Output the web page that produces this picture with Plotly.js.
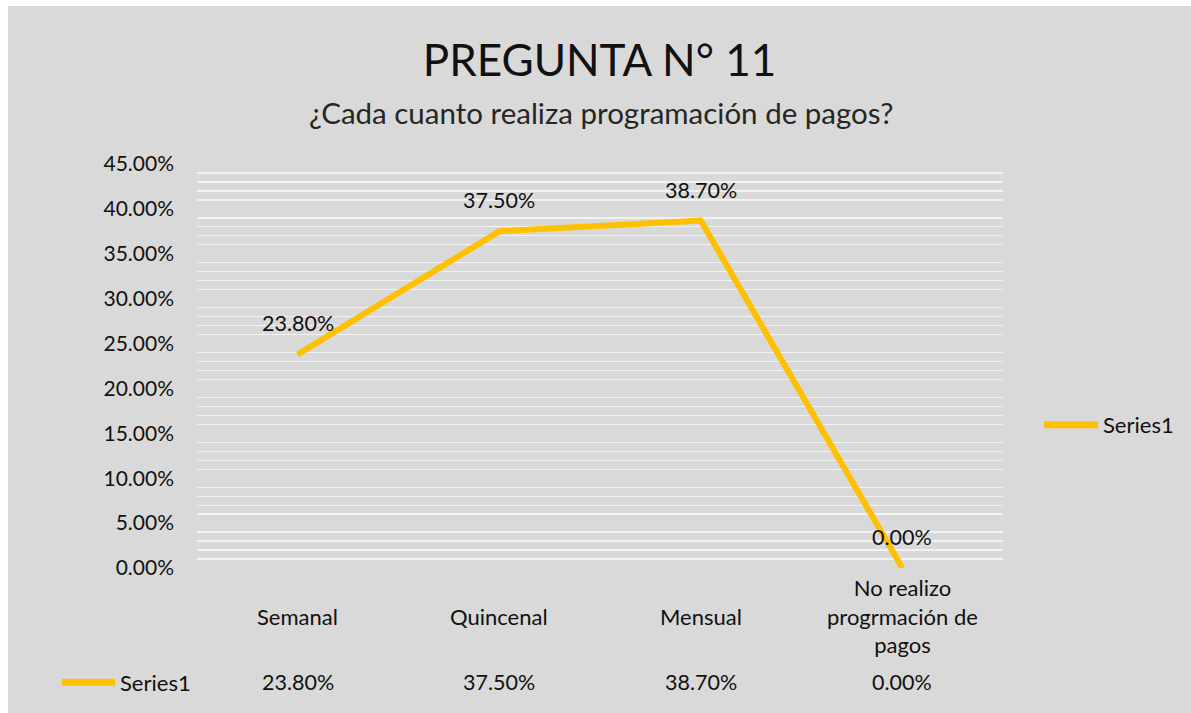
<!DOCTYPE html>
<html>
<head>
<meta charset="utf-8">
<script src="https://cdn.plot.ly/plotly-3.0.1.min.js"></script>
<style>
  html, body { margin: 0; padding: 0; background: #ffffff; }
  #chart { position: absolute; left: 8px; top: 6px; width: 1183px; height: 707px; }
</style>
</head>
<body>
<div id="chart"></div>
<script>
// ---- data ----
const categories = ['Semanal', 'Quincenal', 'Mensual', 'No realizo progrmación de pagos'];
const tickLabels = ['Semanal', 'Quincenal', 'Mensual', 'No realizo<br>progrmación de<br>pagos'];
const values = [0.238, 0.375, 0.387, 0.0];
const seriesName = 'Series1';
const chartTitle = 'PREGUNTA N° 11';
const chartSubtitle = '¿Cada cuanto realiza programación de pagos?';

// ---- style ----
const FONT = 'Lato, "Open Sans", sans-serif';
const TXT = '#111111';
const LINE = '#FFC000';
const NUM_SIZE = 21.5;
const WORD_SIZE = 22;
const fmt = v => (v * 100).toFixed(2) + '%';

// plot area in page pixels: x 197..1003, y 163.5..568.5
const px2x = px => (px - 197) / 806;
const py2y = py => (568.5 - py) / 405;

const annotations = [];
// subtitle
annotations.push({
  x: px2x(601), y: py2y(112), xref: 'paper', yref: 'paper', xanchor: 'center', yanchor: 'middle',
  text: chartSubtitle, showarrow: false, font: {family: FONT, size: 29.5, color: '#262626'}
});
// data labels
categories.forEach((c, i) => {
  annotations.push({
    x: c, y: values[i], xref: 'x', yref: 'y', text: fmt(values[i]),
    showarrow: false, yshift: 31, font: {family: FONT, size: NUM_SIZE, color: TXT}
  });
});
// category labels (vertically centered as in the reference)
categories.forEach((c, i) => {
  annotations.push({
    x: c, y: py2y(617), xref: 'x', yref: 'paper', yanchor: 'middle',
    text: tickLabels[i], showarrow: false,
    font: {family: FONT, size: WORD_SIZE, color: TXT}
  });
});
// data table row
categories.forEach((c, i) => {
  annotations.push({
    x: c, y: py2y(683), xref: 'x', yref: 'paper', yanchor: 'middle',
    text: fmt(values[i]), showarrow: false,
    font: {family: FONT, size: NUM_SIZE, color: TXT}
  });
});
annotations.push({
  x: px2x(118), y: py2y(683), xref: 'paper', yref: 'paper', xanchor: 'left', yanchor: 'middle',
  text: seriesName, showarrow: false, font: {family: FONT, size: WORD_SIZE, color: TXT}
});
// right legend text
annotations.push({
  x: px2x(1101), y: py2y(425), xref: 'paper', yref: 'paper', xanchor: 'left', yanchor: 'middle',
  text: seriesName, showarrow: false, font: {family: FONT, size: WORD_SIZE, color: TXT}
});

const shapes = [
  {type: 'line', xref: 'paper', yref: 'paper', x0: px2x(62), x1: px2x(115), y0: py2y(683), y1: py2y(683),
   line: {color: LINE, width: 7}},
  {type: 'line', xref: 'paper', yref: 'paper', x0: px2x(1044), x1: px2x(1098), y0: py2y(425), y1: py2y(425),
   line: {color: LINE, width: 7}}
];

const trace = {
  x: categories, y: values, name: seriesName, type: 'scatter', mode: 'lines',
  line: {color: LINE, width: 6}, showlegend: false, hoverinfo: 'x+y'
};

const layout = {
  width: 1183, height: 707,
  paper_bgcolor: '#D9D9D9', plot_bgcolor: '#D9D9D9',
  margin: {l: 189, r: 188, t: 157.5, b: 144.5, pad: 0},
  font: {family: FONT, size: 20, color: TXT},
  title: {
    text: chartTitle, x: 0.5, xref: 'container', xanchor: 'center',
    y: 1 - (61 - 6) / 707, yref: 'container', yanchor: 'middle',
    font: {family: FONT, size: 44, color: TXT}
  },
  showlegend: false,
  xaxis: {
    type: 'category', range: [-0.5, 3.5], showticklabels: false,
    showgrid: false, zeroline: false, showline: false, ticks: ''
  },
  yaxis: {
    range: [0, 0.45], dtick: 0.05, tickformat: '.2%',
    showgrid: false, zeroline: false, showline: false, ticks: '',
    ticklabelstandoff: 22,
    tickfont: {family: FONT, size: 21, color: TXT},
    minor: {dtick: 0.01, showgrid: true, gridcolor: '#F2F2F2', gridwidth: 1.3, ticks: ''}
  },
  annotations: annotations,
  shapes: shapes
};

Plotly.newPlot('chart', [trace], layout, {displayModeBar: false, staticPlot: true});
</script>
</body>
</html>
